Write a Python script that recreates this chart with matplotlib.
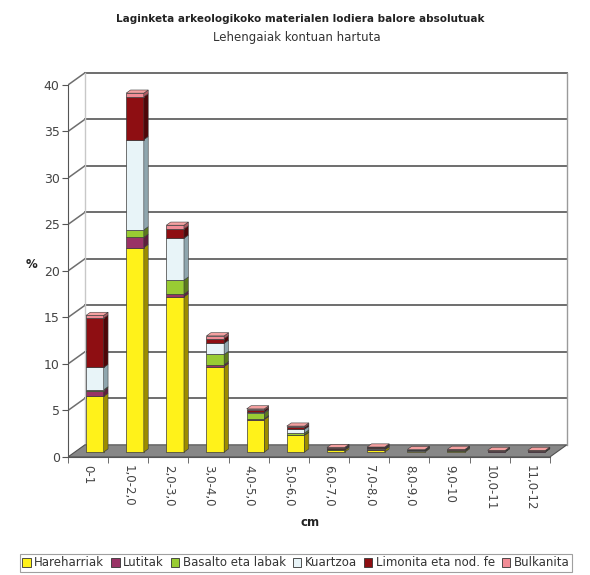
import matplotlib
matplotlib.use("Agg")
import matplotlib.pyplot as plt
from matplotlib.patches import Polygon, Patch
import numpy as np

categories = ["0-1", "1,0-2,0", "2,0-3,0", "3,0-4,0", "4,0-5,0", "5,0-6,0",
              "6,0-7,0", "7,0-8,0", "8,0-9,0", "9,0-10", "10,0-11", "11,0-12"]
series_names = ["Hareharriak", "Lutitak", "Basalto eta labak", "Kuartzoa",
                "Limonita eta nod. fe", "Bulkanita"]
hareharriak = [6.0, 22.0, 16.7, 9.2, 3.5, 1.8, 0.2, 0.25, 0.1, 0.12, 0.06, 0.06]
lutitak     = [0.6, 1.1, 0.3, 0.2, 0.1, 0.05, 0.05, 0.05, 0.03, 0.03, 0.02, 0.02]
basalto     = [0.1, 0.8, 1.5, 1.1, 0.6, 0.2, 0.05, 0.05, 0.03, 0.03, 0.02, 0.02]
kuartzoa    = [2.4, 9.7, 4.5, 1.2, 0.1, 0.4, 0.05, 0.05, 0.03, 0.03, 0.02, 0.02]
limonita    = [5.3, 4.6, 1.0, 0.5, 0.2, 0.2, 0.1, 0.1, 0.05, 0.05, 0.04, 0.04]
bulkanita   = [0.3, 0.4, 0.4, 0.3, 0.15, 0.15, 0.05, 0.05, 0.04, 0.04, 0.03, 0.03]
y_ticks = [0, 5, 10, 15, 20, 25, 30, 35, 40]

series = [hareharriak, lutitak, basalto, kuartzoa, limonita, bulkanita]
face_colors = ["#FFF21A", "#993366", "#99CC33", "#E8F4F8", "#8E0E12", "#F28C96"]
side_colors = ["#9C8C00", "#5E1F3E", "#5C7A1E", "#8FA6AE", "#4E0608", "#B05A62"]

W, H = 590, 575
fig = plt.figure(figsize=(W / 100, H / 100), dpi=100)
fig.patch.set_facecolor("white")

# axes placement (pixel based)
x0px, x1px = 68, 570
ytop_px, ybot_px = 71, 461.6
ax = fig.add_axes([x0px / W, (H - ybot_px) / H, (x1px - x0px) / W, (ybot_px - ytop_px) / H])
ax.set_xlim(-0.5, 12.0)
ax.set_ylim(-0.5, 41.5)
ax.set_facecolor("none")

n = len(categories)
DX, DY = 0.42, 1.3  # depth of the 3D box (data units)

# floor
floor = Polygon([(-0.5, 0), (n - 0.5, 0), (n - 0.5 + DX, DY), (-0.5 + DX, DY)],
                closed=True, facecolor="#878787", edgecolor="#505050", lw=0.8, zorder=1)
ax.add_patch(floor)

# walls & gridlines
for v in y_ticks[1:]:
    ax.plot([-0.5 + DX, n - 0.5 + DX], [v + DY, v + DY], color="#6E6E6E", lw=1.4, zorder=0.5)
    ax.plot([-0.5, -0.5 + DX], [v, v + DY], color="#6E6E6E", lw=1.1, zorder=0.5)
ax.plot([-0.5 + DX, -0.5 + DX], [DY, y_ticks[-1] + DY], color="#C8C8C8", lw=1.0, zorder=0.5)
ax.plot([n - 0.5 + DX, n - 0.5 + DX], [DY, y_ticks[-1] + DY], color="#9A9A9A", lw=1.0, zorder=0.5)

# bars (3D look)
f = 0.4
bw = 0.44
bdx, bdy = 0.26 * DX, 0.26 * DY
xs = np.arange(n) + f * DX
base = np.full(n, f * DY)
cum = base.copy()
for s, vals in enumerate(series):
    vals = np.asarray(vals, dtype=float)
    ax.bar(xs, vals, bottom=cum, width=bw, color=face_colors[s],
           edgecolor="#3A3A3A", linewidth=0.5, zorder=3)
    for i in range(n):
        xr = xs[i] + bw / 2
        y0, y1 = cum[i], cum[i] + vals[i]
        ax.add_patch(Polygon([(xr, y0), (xr + bdx, y0 + bdy), (xr + bdx, y1 + bdy), (xr, y1)],
                             closed=True, facecolor=side_colors[s], edgecolor="#3A3A3A",
                             lw=0.4, zorder=3))
    cum = cum + vals
for i in range(n):
    xl, xr = xs[i] - bw / 2, xs[i] + bw / 2
    y1 = cum[i]
    ax.add_patch(Polygon([(xl, y1), (xr, y1), (xr + bdx, y1 + bdy), (xl + bdx, y1 + bdy)],
                         closed=True, facecolor="#F4A0A0", edgecolor="#3A3A3A", lw=0.4, zorder=3))

# axes styling
for sp in ["top", "right"]:
    ax.spines[sp].set_visible(False)
ax.spines["left"].set_bounds(0, 40)
ax.spines["left"].set_color("#555555")
ax.spines["bottom"].set_position(("data", 0))
ax.spines["bottom"].set_bounds(-0.5, n - 0.5)
ax.spines["bottom"].set_color("#555555")
ax.set_yticks(y_ticks)
ax.set_yticklabels([str(v) for v in y_ticks], fontsize=9, color="#444444")
ax.tick_params(axis="y", length=4, color="#555555", pad=2)
ax.set_xticks(np.arange(n))
ax.set_xticklabels(categories, rotation=-90, fontsize=8.5, color="#444444", va="top", ha="center")
ax.set_xticks(np.arange(n + 1) - 0.5, minor=True)
ax.tick_params(axis="x", which="major", length=0, pad=6)
ax.tick_params(axis="x", which="minor", length=4, color="#555555")

# titles & labels
fig.text(300 / W, 1 - 19 / H, "Laginketa arkeologikoko materialen lodiera balore absolutuak",
         ha="center", va="center", fontsize=7.5, fontweight="bold", color="#222222")
fig.text(297 / W, 1 - 38 / H, "Lehengaiak kontuan hartuta",
         ha="center", va="center", fontsize=8.5, color="#333333")
fig.text(31 / W, 1 - 265 / H, "%", ha="center", va="center", fontsize=8.5,
         fontweight="bold", color="#222222")
fig.text(310 / W, 1 - 522 / H, "cm", ha="center", va="center", fontsize=8.5,
         fontweight="bold", color="#222222")

handles = [Patch(facecolor=face_colors[k], edgecolor="#333333", linewidth=0.6)
           for k in range(len(series_names))]
leg = fig.legend(handles, series_names, loc="center", bbox_to_anchor=(296 / W, 1 - 563 / H),
                 ncol=6, fontsize=8.5, frameon=True, fancybox=False, handlelength=0.7,
                 handleheight=0.7, handletextpad=0.3, columnspacing=0.6, borderpad=0.25,
                 labelcolor="#333333")
leg.get_frame().set_edgecolor("#888888")
leg.get_frame().set_linewidth(0.8)

fig.savefig("out.png", dpi=100, facecolor="white")
